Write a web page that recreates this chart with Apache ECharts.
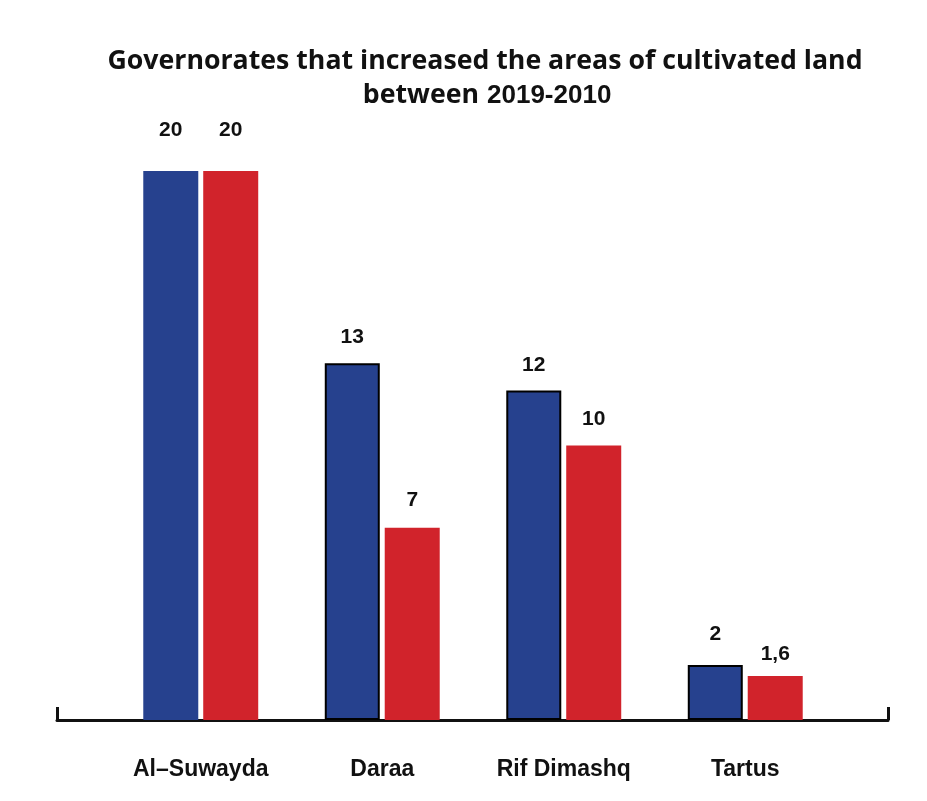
<!DOCTYPE html>
<html>
<head>
<meta charset="utf-8">
<title>Governorates that increased the areas of cultivated land</title>
<script src="https://cdn.jsdelivr.net/npm/echarts@6/dist/echarts.min.js"></script>
<style>
  html, body { margin: 0; padding: 0; background: #fff; }
  #main { width: 927px; height: 801px; }
</style>
</head>
<body>
<div id="main"></div>
<script>
// 数据
var categories = ['Al–Suwayda', 'Daraa', 'Rif Dimashq', 'Tartus'];
var blueValues = [20, 13, 12, 2];
var redValues = [20, 7, 10, 1.6];
var titleLine1 = 'Governorates that increased the areas of cultivated land';
var titleWord = 'between';
var titleYears = '2019-2010';

// 每根柱子标签离柱顶的距离
var blueGap = [30, 15, 15, 20];
var redGap = [30, 17, 16, 11];

var BLUE = '#26418e';
var RED = '#d1232b';

function fmt(v) {
    return String(v).replace('.', ',');
}

var myChart = echarts.init(document.getElementById('main'));

var option = {
    backgroundColor: '#fff',
    animation: false,
    graphic: [
        {
            type: 'text',
            x: 485,
            y: 61,
            style: {
                text: titleLine1,
                align: 'center',
                verticalAlign: 'middle',
                fontFamily: 'Open Sans',
                fontWeight: 'bold',
                fontSize: 26.7,
                fill: '#111'
            }
        },
        {
            type: 'text',
            x: 479,
            y: 95,
            style: {
                text: titleWord,
                align: 'right',
                verticalAlign: 'middle',
                fontFamily: 'Open Sans',
                fontWeight: 'bold',
                fontSize: 26.7,
                fill: '#111'
            }
        },
        {
            type: 'text',
            x: 487,
            y: 96,
            style: {
                text: titleYears,
                align: 'left',
                verticalAlign: 'middle',
                fontFamily: 'Liberation Sans',
                fontWeight: 'bold',
                fontSize: 26,
                fill: '#111'
            }
        }
    ],
    grid: [
        { left: 110, right: 91, top: 171, bottom: 81 },
        // 底部黑色轴线（两端带小竖线）
        { left: 57, right: 39, top: 171, bottom: 81 }
    ],
    xAxis: [
        {
            type: 'category',
            gridIndex: 0,
            data: categories,
            axisLine: { show: false },
            axisTick: { show: false },
            axisLabel: {
                margin: 38,
                fontFamily: 'Liberation Sans',
                fontWeight: 'bold',
                fontSize: 23,
                color: '#111'
            }
        },
        {
            type: 'value',
            gridIndex: 1,
            min: 0,
            max: 1,
            interval: 1,
            axisLine: { show: true, lineStyle: { color: '#111', width: 3 } },
            axisTick: { show: true, inside: true, length: 13, lineStyle: { color: '#111', width: 3 } },
            axisLabel: { show: false },
            splitLine: { show: false }
        }
    ],
    yAxis: [
        { type: 'value', gridIndex: 0, min: 0, max: 20, show: false },
        { type: 'value', gridIndex: 1, min: 0, max: 1, show: false }
    ],
    series: [
        {
            type: 'bar',
            name: 'blue',
            xAxisIndex: 0,
            yAxisIndex: 0,
            barWidth: 55,
            barGap: '9%',
            data: blueValues.map(function (v, i) {
                return {
                    value: v,
                    itemStyle: {
                        color: BLUE,
                        borderColor: '#000',
                        borderWidth: i === 0 ? 0 : 2
                    },
                    label: { distance: blueGap[i] }
                };
            }),
            label: {
                show: true,
                position: 'top',
                fontFamily: 'Liberation Sans',
                fontWeight: 'bold',
                fontSize: 21,
                color: '#111',
                formatter: function (p) { return fmt(p.value); }
            }
        },
        {
            type: 'bar',
            name: 'red',
            xAxisIndex: 0,
            yAxisIndex: 0,
            barWidth: 55,
            data: redValues.map(function (v, i) {
                return {
                    value: v,
                    itemStyle: { color: RED },
                    label: { distance: redGap[i] }
                };
            }),
            label: {
                show: true,
                position: 'top',
                fontFamily: 'Liberation Sans',
                fontWeight: 'bold',
                fontSize: 21,
                color: '#111',
                formatter: function (p) { return fmt(p.value); }
            }
        }
    ]
};

myChart.setOption(option);
</script>
</body>
</html>
